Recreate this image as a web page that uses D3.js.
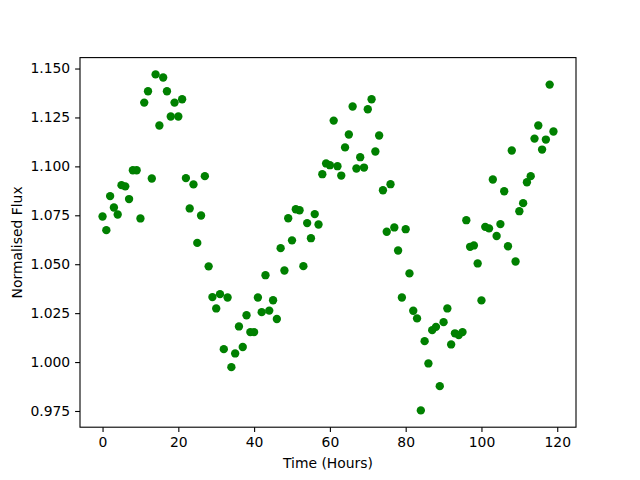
<!DOCTYPE html>
<html><head><meta charset="utf-8">
<script src="https://cdn.jsdelivr.net/npm/d3@7"></script>
<style>body{margin:0;background:#fff}svg{display:block}text{font-family:"DejaVu Sans",sans-serif}</style>
</head><body><svg id="c" width="640" height="480"></svg>
<script>
const hours = d3.range(0, 120);
const flux = [
1.0744,1.0674,1.0848,1.0790,1.0754,1.0904,1.0898,1.0833,1.0980,1.0980,
1.0734,1.1326,1.1384,1.0938,1.1470,1.1209,1.1454,1.1384,1.1255,1.1326,
1.1255,1.1343,1.0940,1.0785,1.0908,1.0609,1.0749,1.0950,1.0489,1.0332,
1.0274,1.0347,1.0066,1.0330,0.9974,1.0044,1.0182,1.0077,1.0239,1.0153,
1.0153,1.0330,1.0255,1.0444,1.0263,1.0316,1.0220,1.0582,1.0468,1.0735,
1.0622,1.0781,1.0776,1.0490,1.0710,1.0633,1.0756,1.0703,1.0960,1.1015,
1.1006,1.1234,1.1001,1.0953,1.1097,1.1163,1.1306,1.0989,1.1047,1.0994,
1.1292,1.1343,1.1076,1.1158,1.0878,1.0666,1.0909,1.0688,1.0570,1.0330,
1.0679,1.0453,1.0262,1.0223,0.9753,1.0107,0.9993,1.0163,1.0180,0.9877,
1.0204,1.0274,1.0090,1.0147,1.0138,1.0153,1.0725,1.0589,1.0596,1.0504,
1.0315,1.0691,1.0683,1.0933,1.0644,1.0705,1.0873,1.0592,1.1081,1.0514,
1.0771,1.0812,1.0919,1.0950,1.1142,1.1209,1.1086,1.1137,1.1418,1.1178];
const xTicks = [0,20,40,60,80,100,120];
const yTicks = [0.975,1.000,1.025,1.050,1.075,1.100,1.125,1.150];
const xLabel = "Time (Hours)";
const yLabel = "Normalised Flux";

const svg = d3.select("#c");
const L = 80, R = 576, T = 57.6, B = 427.2;
function pad(ext){const s=ext[1]-ext[0];return [ext[0]-0.05*s, ext[1]+0.05*s];}
const x = d3.scaleLinear().domain(pad(d3.extent(hours))).range([L, R]);
const y = d3.scaleLinear().domain(pad(d3.extent(flux))).range([B, T]);
const data = hours.map((h,i)=>({h, f: flux[i]}));

svg.append("g").selectAll("circle").data(data).join("circle")
  .attr("cx", d=>x(d.h)).attr("cy", d=>y(d.f)).attr("r", 4.17)
  .attr("fill", "#008000");

const gx = svg.append("g").attr("transform", `translate(0,${B})`)
  .call(d3.axisBottom(x).tickValues(xTicks).tickFormat(d3.format("d")).tickSize(4.9).tickPadding(4.9));
const gy = svg.append("g").attr("transform", `translate(${L},0)`)
  .call(d3.axisLeft(y).tickValues(yTicks).tickFormat(d3.format(".3f")).tickSize(4.9).tickPadding(4.9));
[gx, gy].forEach(g=>{
  g.select(".domain").remove();
  g.selectAll("line").attr("stroke","#000").attr("stroke-width",1.1);
  g.selectAll("text").attr("font-size","13.9px").attr("fill","#000").attr("font-family","DejaVu Sans");
});
svg.append("rect").attr("x",L).attr("y",T).attr("width",R-L).attr("height",B-T)
  .attr("fill","none").attr("stroke","#000").attr("stroke-width",1.1);

svg.append("text").attr("x",(L+R)/2).attr("y",468).attr("text-anchor","middle")
  .attr("font-size","13.9px").text(xLabel);
svg.append("text").attr("transform",`translate(22,${(T+B)/2}) rotate(-90)`).attr("text-anchor","middle")
  .attr("font-size","13.9px").text(yLabel);
</script></body></html>
